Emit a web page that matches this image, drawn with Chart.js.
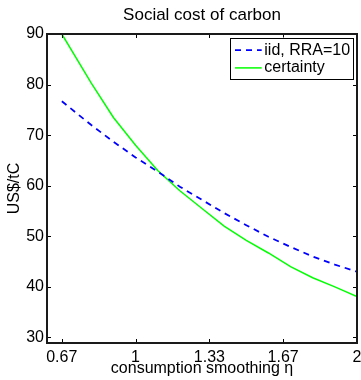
<!DOCTYPE html>
<html>
<head>
<meta charset="utf-8">
<title>Social cost of carbon</title>
<script src="https://cdn.jsdelivr.net/npm/chart.js@4/dist/chart.umd.min.js"></script>
<style>
  html, body { margin: 0; padding: 0; background: #fff; }
  #wrap { width: 361px; height: 380px; }
</style>
</head>
<body>
<div id="wrap"><canvas id="scc" width="361" height="380"></canvas></div>
<script>
// consumption smoothing parameter (eta)
const etaValues = [0.667, 0.8, 0.9, 1.0, 1.1, 1.2, 1.3, 1.4, 1.5, 1.6, 1.7, 1.8, 1.9, 2.0];
// social cost of carbon, US$/tC
const sccIid = [76.7, 72.0, 68.7, 65.6, 62.8, 59.8, 57.2, 54.6, 52.2, 49.9, 47.9, 46.0, 44.4, 43.0];
const sccCertainty = [90.0, 80.3, 73.5, 68.0, 63.0, 59.0, 55.5, 52.0, 49.2, 46.7, 44.0, 41.8, 40.0, 38.1];

const seriesLabels = ['iid, RRA=10', 'certainty'];
const xTickValues = [2 / 3, 1, 4 / 3, 5 / 3, 2];
const xTickLabels = ['0.67', '1', '1.33', '1.67', '2'];
const yTickValues = [30, 40, 50, 60, 70, 80, 90];

const FONT = '"Liberation Sans", Arial, Helvetica, sans-serif';

const toPoints = (ys) => etaValues.map((x, i) => ({ x, y: ys[i] }));

// box around the axes with inward tick marks on all four sides (boxed axes)
const axesBox = {
  id: 'axesBox',
  afterDatasetsDraw(chart) {
    const { ctx, chartArea: a, scales } = chart;
    const tl = 4;
    ctx.save();
    ctx.strokeStyle = '#000';
    ctx.lineWidth = 1;
    ctx.beginPath();
    scales.x.ticks.forEach(t => {
      const px = Math.round(scales.x.getPixelForValue(t.value)) + 0.5;
      ctx.moveTo(px, a.bottom); ctx.lineTo(px, a.bottom - tl);
      ctx.moveTo(px, a.top); ctx.lineTo(px, a.top + tl);
    });
    scales.y.ticks.forEach(t => {
      const py = Math.round(scales.y.getPixelForValue(t.value)) + 0.5;
      ctx.moveTo(a.left, py); ctx.lineTo(a.left + tl, py);
      ctx.moveTo(a.right, py); ctx.lineTo(a.right - tl, py);
    });
    ctx.stroke();
    ctx.lineWidth = 2;
    ctx.strokeStyle = '#1a1a1a';
    ctx.strokeRect(a.left, a.top, a.right - a.left, a.bottom - a.top);
    ctx.restore();
  }
};

// legend box in the upper right corner of the axes
const boxLegend = {
  id: 'boxLegend',
  afterDraw(chart) {
    const { ctx, chartArea: a } = chart;
    const sets = chart.data.datasets;
    const bx = a.right - 127, by = a.top + 3.5, bw = 122.5, bh = 41;
    ctx.save();
    ctx.fillStyle = '#fff';
    ctx.fillRect(bx, by, bw, bh);
    ctx.strokeStyle = '#000';
    ctx.lineWidth = 1;
    ctx.strokeRect(Math.round(bx) + 0.5, Math.round(by) + 0.5, Math.round(bw), Math.round(bh));
    ctx.font = '16px ' + FONT;
    ctx.textBaseline = 'middle';
    ctx.textAlign = 'left';
    sets.forEach((ds, i) => {
      const cy = by + 12.7 + i * 17.7;
      ctx.beginPath();
      ctx.strokeStyle = ds.borderColor;
      ctx.lineWidth = ds.borderWidth;
      ctx.setLineDash(ds.borderDash || []);
      ctx.moveTo(bx + 5, cy);
      ctx.lineTo(bx + 31.7, cy);
      ctx.stroke();
      ctx.setLineDash([]);
      ctx.fillStyle = '#000';
      ctx.fillText(ds.label, bx + 34.3, cy);
    });
    ctx.restore();
  }
};

new Chart(document.getElementById('scc'), {
  type: 'line',
  data: {
    datasets: [
      {
        label: seriesLabels[0],
        data: toPoints(sccIid),
        borderColor: '#0000ff',
        backgroundColor: '#0000ff',
        borderWidth: 1.8,
        borderDash: [6, 5],
        pointRadius: 0,
        tension: 0,
        fill: false
      },
      {
        label: seriesLabels[1],
        data: toPoints(sccCertainty),
        borderColor: '#00ff00',
        backgroundColor: '#00ff00',
        borderWidth: 1.5,
        pointRadius: 0,
        tension: 0,
        fill: false
      }
    ]
  },
  options: {
    responsive: false,
    animation: false,
    events: [],
    layout: { padding: { left: 0, right: 4, top: 0, bottom: 0 } },
    plugins: {
      legend: { display: false },
      tooltip: { enabled: false },
      title: {
        display: true,
        text: 'Social cost of carbon',
        fullSize: false,
        color: '#000',
        font: { family: FONT, size: 17, weight: 'normal', lineHeight: 1.2 },
        padding: { top: 5.4, bottom: 8.2 }
      }
    },
    scales: {
      x: {
        type: 'linear',
        min: 0.6,
        max: 2,
        grid: { display: false, drawTicks: false },
        border: { display: false },
        afterBuildTicks: (s) => { s.ticks = xTickValues.map(v => ({ value: v })); },
        afterFit: (s) => { s.height = 37; s.paddingLeft = 0; s.paddingRight = 0; },
        ticks: {
          autoSkip: false,
          maxRotation: 0,
          padding: 5,
          color: '#000',
          font: { family: FONT, size: 16 },
          callback: (v) => {
            const i = xTickValues.findIndex(t => Math.abs(t - v) < 1e-6);
            return i >= 0 ? xTickLabels[i] : '';
          }
        },
        title: {
          display: true,
          text: 'consumption smoothing η',
          color: '#000',
          font: { family: FONT, size: 16, lineHeight: 1.2 },
          padding: { top: 0, bottom: 1.9 }
        }
      },
      y: {
        type: 'linear',
        min: 28.9,
        max: 90,
        grid: { display: false, drawTicks: false },
        border: { display: false },
        afterBuildTicks: (s) => { s.ticks = yTickValues.map(v => ({ value: v })); },
        afterFit: (s) => { s.width = 47; s.paddingTop = 0; s.paddingBottom = 0; },
        ticks: {
          autoSkip: false,
          padding: 3,
          color: '#000',
          font: { family: FONT, size: 16 }
        },
        title: {
          display: true,
          text: 'US$/tC',
          color: '#000',
          font: { family: FONT, size: 16, lineHeight: 1.2 },
          padding: { top: 5.4, bottom: 0 }
        }
      }
    }
  },
  plugins: [axesBox, boxLegend]
});
</script>
</body>
</html>
